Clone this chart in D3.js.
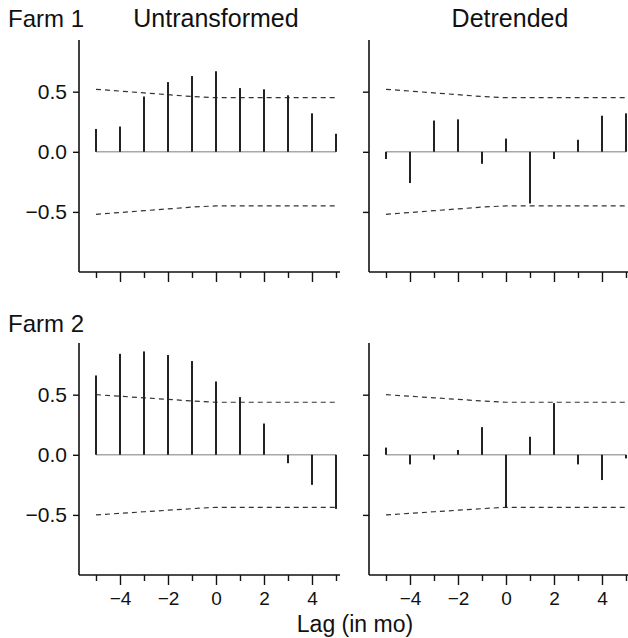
<!DOCTYPE html>
<html>
<head>
<meta charset="utf-8">
<script src="https://cdn.jsdelivr.net/npm/d3@7"></script>
<style>
  body { margin: 0; background: #fff; }
  text { font-family: "Liberation Sans", Arial, Helvetica, sans-serif; fill: #111; }
</style>
</head>
<body>
<svg id="chart"></svg>
<script>
// lags -5..5
const lags = [-5, -4, -3, -2, -1, 0, 1, 2, 3, 4, 5];
const yTicks = [-0.5, 0, 0.5];
const xTickLabels = [-4, -2, 0, 2, 4];

// cross-correlation values
const farm1Untransformed = [0.19, 0.21, 0.46, 0.58, 0.63, 0.67, 0.53, 0.52, 0.47, 0.32, 0.15];
const farm1Detrended = [-0.06, -0.26, 0.26, 0.27, -0.10, 0.11, -0.43, -0.06, 0.10, 0.30, 0.32];
const farm2Untransformed = [0.66, 0.84, 0.86, 0.83, 0.78, 0.61, 0.48, 0.26, -0.07, -0.25, -0.45];
const farm2Detrended = [0.06, -0.08, -0.04, 0.04, 0.23, -0.44, 0.15, 0.43, -0.08, -0.21, -0.03];

// confidence bounds (upper; lower is mirrored)
const farm1Bound = [0.52, 0.505, 0.49, 0.475, 0.46, 0.45, 0.45, 0.45, 0.45, 0.45, 0.45];
const farm2Bound = [0.50, 0.487, 0.474, 0.461, 0.448, 0.437, 0.437, 0.437, 0.437, 0.437, 0.437];

const W = 628, H = 638;
const pw = 261, ph = 232;

const svg = d3.select('#chart')
    .attr('width', W)
    .attr('height', H);

const x = d3.scaleLinear().domain([-5.708, 5.167]).range([0, pw]);
const y = d3.scaleLinear().domain([-1.0, 0.93]).range([ph, 0]);

function drawPanel(left, top, values, bound, showY, showX) {
    const g = svg.append('g').attr('transform', `translate(${left},${top})`);

    // zero line
    g.append('line')
        .attr('x1', x(-5)).attr('x2', x(5))
        .attr('y1', y(0)).attr('y2', y(0))
        .attr('stroke', '#a8a8a8')
        .attr('stroke-width', 1.5);

    // bounds
    const line = d3.line().x((d, i) => x(lags[i])).y(d => y(d));
    [1, -1].forEach(s => {
        g.append('path')
            .attr('d', line(bound.map(v => v * s)))
            .attr('fill', 'none')
            .attr('stroke', '#333')
            .attr('stroke-width', 1.2)
            .attr('stroke-dasharray', '5,4');
    });

    // spikes
    g.selectAll('.spike')
        .data(values)
        .enter()
        .append('line')
        .attr('x1', (d, i) => x(lags[i]))
        .attr('x2', (d, i) => x(lags[i]))
        .attr('y1', y(0))
        .attr('y2', d => y(d))
        .attr('stroke', '#222')
        .attr('stroke-width', 2);

    // y axis
    const yAxis = d3.axisLeft(y)
        .tickValues(yTicks)
        .tickSize(6)
        .tickPadding(6)
        .tickFormat(showY ? d3.format('.1f') : '');
    const ya = g.append('g').call(yAxis);
    ya.select('.domain').attr('d', `M0,0V${ph}`);
    ya.selectAll('text').style('font-size', '21px');

    // x axis
    const xa = g.append('g')
        .attr('transform', `translate(0,${ph})`)
        .call(d3.axisBottom(x).tickValues(lags).tickSize(5).tickFormat(''));
    xa.selectAll('.tick line')
        .attr('y2', d => d % 2 === 0 ? 10 : 6);
    xa.select('.domain').attr('d', `M0,0H${pw}`);
    if (showX) {
        xa.selectAll('.tick')
            .filter(d => xTickLabels.includes(d))
            .append('text')
            .attr('y', 30)
            .attr('text-anchor', 'middle')
            .style('font-size', '19px')
            .text(d => d3.format('d')(d).replace('-', '\u2212'));
    }

    [ya, xa].forEach(a => {
        a.select('.domain').attr('stroke', '#111').attr('stroke-width', 1.6);
        a.selectAll('.tick line').attr('stroke', '#111').attr('stroke-width', 1.4);
        a.selectAll('text').attr('fill', '#111');
    });
    return g;
}

drawPanel(79, 40, farm1Untransformed, farm1Bound, true, false);
drawPanel(369, 40, farm1Detrended, farm1Bound, false, false);
drawPanel(79, 343, farm2Untransformed, farm2Bound, true, true);
drawPanel(369, 343, farm2Detrended, farm2Bound, false, true);

// titles
const title = (t, xp, yp, anchor, size) => svg.append('text')
    .attr('x', xp).attr('y', yp)
    .attr('text-anchor', anchor)
    .style('font-size', size + 'px')
    .text(t);

title('Farm 1', 8, 27, 'start', 24);
title('Untransformed', 79 + x(0), 27, 'middle', 25);
title('Detrended', 369 + x(0) + 4, 27, 'middle', 25);
title('Farm 2', 8, 332, 'start', 24);
title('Lag (in mo)', 355, 632, 'middle', 23);
</script>
</body>
</html>
